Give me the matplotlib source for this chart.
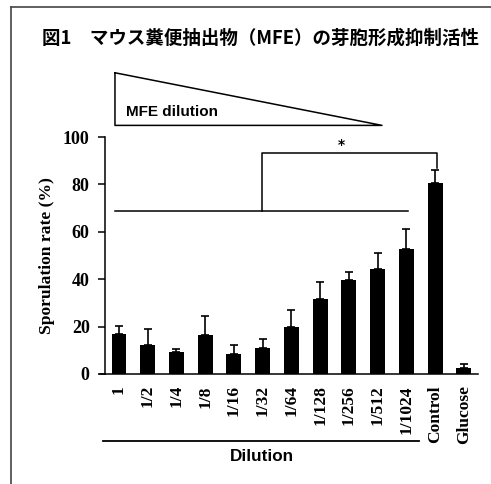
import numpy as np
import matplotlib
matplotlib.use("Agg")
import matplotlib.pyplot as plt
from matplotlib.lines import Line2D

labels = ["1", "1/2", "1/4", "1/8", "1/16", "1/32", "1/64", "1/128",
          "1/256", "1/512", "1/1024", "Control", "Glucose"]
rate = [16.9, 12.2, 9.4, 16.5, 8.4, 10.8, 19.7, 31.6, 39.7, 44.3, 52.6, 80.4, 2.4]
err = [3.5, 6.8, 1.1, 8.1, 3.7, 4.1, 7.3, 7.1, 3.2, 6.6, 8.7, 5.6, 1.8]

title = "図1\u3000マウス糞便抽出物（MFE）の芽胞形成抑制活性"

fig = plt.figure(figsize=(4.91, 4.84), dpi=100)
ax = fig.add_axes([105 / 491, 110 / 484, 373 / 491, 237 / 484])

x = np.arange(len(labels))
ax.bar(x, rate, width=0.52, color="black")
ax.errorbar(x, rate, yerr=[np.zeros(len(err)), err], fmt="none",
            ecolor="black", elinewidth=1.2, capsize=3, capthick=1.2)

ax.set_xlim(-0.487, 12.49)
ax.set_ylim(0, 100)
ax.set_yticks([0, 20, 40, 60, 80, 100])
ax.set_xticks(x)
ax.set_xticklabels(labels, rotation=90)
for spine in ["top", "right"]:
    ax.spines[spine].set_visible(False)
for spine in ["left", "bottom"]:
    ax.spines[spine].set_linewidth(1.1)
ax.tick_params(axis="x", length=0, pad=8)
ax.tick_params(axis="y", length=5, width=1.1, pad=6)
for lab in ax.get_xticklabels():
    lab.set_family("Liberation Serif")
    lab.set_fontweight("bold")
    lab.set_fontsize(12.5)
for lab in ax.get_yticklabels():
    lab.set_family("Liberation Serif")
    lab.set_fontweight("bold")
    lab.set_fontsize(13)
ax.set_ylabel("Sporulation rate (%)", family="Liberation Serif",
              fontweight="bold", fontsize=12.6, labelpad=6)

# x axis extends left past the y axis
ax.plot([-0.66, -0.487], [0, 0], color="black", lw=1.1, clip_on=False)

# significance bracket
ax.plot([-0.14, 10.04], [68.8, 68.8], color="black", lw=1.1, clip_on=False)
ax.plot([4.96, 4.96, 11.05, 11.05], [68.8, 93.1, 93.1, 87.0],
        color="black", lw=1.1, clip_on=False)
ax.text(7.75, 96.5, "*", ha="center", va="center", fontsize=10,
        fontweight="bold", clip_on=False)

# MFE dilution triangle
ax.plot([-0.14, -0.14, 9.15, -0.14], [127.1, 104.9, 104.9, 127.1],
        color="black", lw=1.1, clip_on=False)
ax.text(0.25, 110.5, "MFE dilution", family="Liberation Sans",
        fontweight="bold", fontsize=11, ha="left", va="center")

# dilution line
ax.plot([-0.56, 10.43], [-28.1, -28.1], color="black", lw=1.3, clip_on=False)
ax.text(4.97, -35, "Dilution", family="Liberation Sans", fontweight="bold",
        fontsize=12.3, ha="center", va="center")

fig.text(42 / 491, 1 - 38 / 484, title, family=["Noto Sans CJK JP", "DejaVu Sans"],
         fontweight="bold", fontsize=13.3, ha="left", va="center")

# frame edges
fig.add_artist(Line2D([11 / 491, 11 / 491], [0, 1 - 7 / 484],
                      transform=fig.transFigure, color="#444444", lw=1.2))
fig.add_artist(Line2D([11 / 491, 1], [1 - 7 / 484, 1 - 7 / 484],
                      transform=fig.transFigure, color="#444444", lw=1.2))

fig.savefig("out.png", dpi=100)
